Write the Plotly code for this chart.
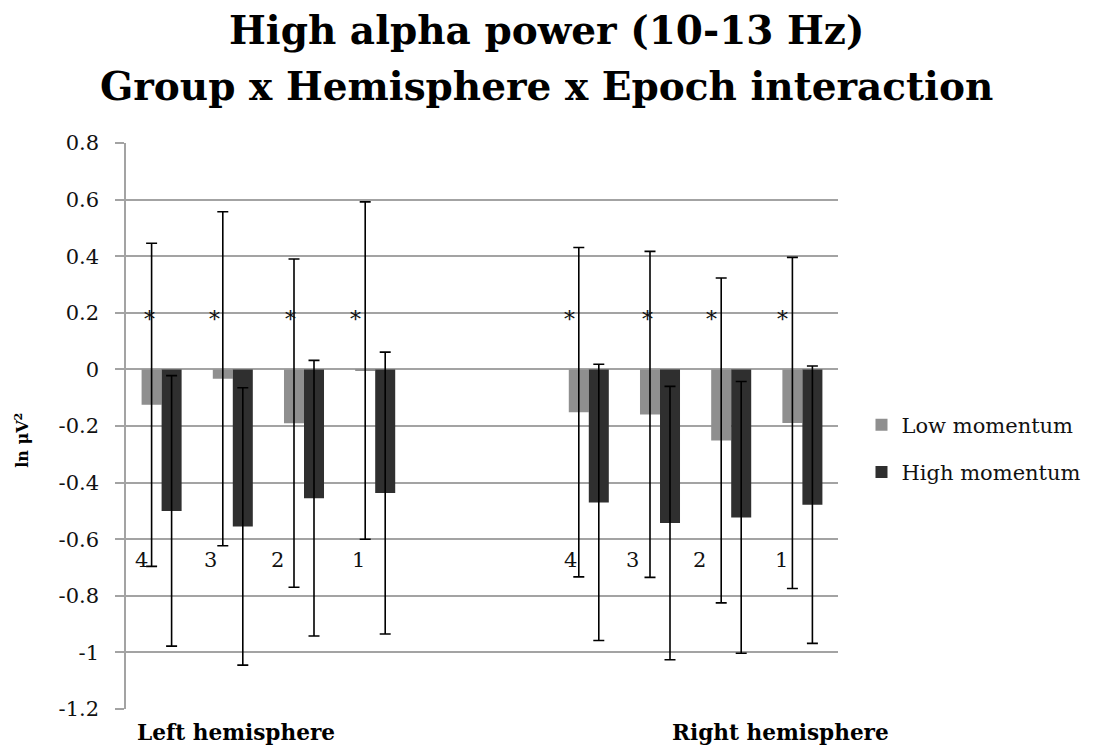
import plotly.graph_objects as go

# ---------------- data ----------------
epochs = ["4", "3", "2", "1"]
hemispheres = ["Left hemisphere", "Right hemisphere"]
series_names = ["Low momentum", "High momentum"]
title_lines = ["High alpha power (10-13 Hz)", "Group x Hemisphere x Epoch interaction"]
y_title = "ln μV<sup>2</sup>"

low_left = [-0.125, -0.033, -0.19, -0.004]
low_left_err = [0.571, 0.59, 0.58, 0.596]
high_left = [-0.50, -0.555, -0.455, -0.437]
high_left_err = [0.478, 0.49, 0.487, 0.498]

low_right = [-0.151, -0.159, -0.251, -0.189]
low_right_err = [0.582, 0.576, 0.574, 0.585]
high_right = [-0.47, -0.543, -0.523, -0.478]
high_right_err = [0.488, 0.483, 0.48, 0.49]

y_ticks = [0.8, 0.6, 0.4, 0.2, 0, -0.2, -0.4, -0.6, -0.8, -1, -1.2]
y_tick_labels = ["0.8", "0.6", "0.4", "0.2", "0", "-0.2", "-0.4", "-0.6", "-0.8", "-1", "-1.2"]
significance_mark = "*"

# ---------------- layout helpers ----------------
FONT = "DejaVu Serif"
GRID = "#a3a3a3"
LOW_COLOR = "#8f8f8f"
HIGH_COLOR = "#2f2f2f"

left_slots = [0, 1, 2, 3]
right_slots = [6, 7, 8, 9]
x_slots = left_slots + right_slots

low_vals = low_left + low_right
low_errs = low_left_err + low_right_err
high_vals = high_left + high_right
high_errs = high_left_err + high_right_err

fig = go.Figure()
fig.add_trace(go.Bar(
    x=x_slots, y=low_vals, name=series_names[0], marker_color=LOW_COLOR,
    marker_line_width=0, legendgroup="a",
    error_y=dict(type="data", array=low_errs, visible=True, color="#000000",
                 thickness=1.6, width=5.5),
))
fig.add_trace(go.Bar(
    x=x_slots, y=high_vals, name=series_names[1], marker_color=HIGH_COLOR,
    marker_line_width=0, legendgroup="b",
    error_y=dict(type="data", array=high_errs, visible=True, color="#000000",
                 thickness=1.6, width=5.5),
))

annotations = []
# title lines
annotations.append(dict(x=0.591, y=1.20, xref="paper", yref="paper", xanchor="center",
                        yanchor="middle", text="<b>" + title_lines[0] + "</b>", showarrow=False,
                        font=dict(family=FONT, size=39, color="#000")))
annotations.append(dict(x=0.591, y=1.1007, xref="paper", yref="paper", xanchor="center",
                        yanchor="middle", text="<b>" + title_lines[1] + "</b>", showarrow=False,
                        font=dict(family=FONT, size=39, color="#000")))
# asterisks (offsets from slot centre, layout only)
star_offsets = [-0.17, -0.26, -0.19, -0.27, -0.27, -0.18, -0.27, -0.28]
for s, off in zip(x_slots, star_offsets):
    annotations.append(dict(x=s + off, y=0.2, xref="x", yref="y", text=significance_mark,
                            showarrow=False, font=dict(family=FONT, size=22, color="#111"),
                            yshift=-7))
# epoch labels
label_offsets = [-0.28, -0.32, -0.37, -0.24, -0.26, -0.39, -0.44, -0.30]
for s, off, lab in zip(x_slots, label_offsets, epochs + epochs):
    annotations.append(dict(x=s + off, y=-0.673, xref="x", yref="y", text=lab,
                            showarrow=False, font=dict(family=FONT, size=21, color="#111")))
# hemisphere labels
annotations.append(dict(x=-0.374, y=-0.042, xref="x", yref="paper", xanchor="left",
                        yanchor="middle", text="<b>" + hemispheres[0] + "</b>", showarrow=False,
                        font=dict(family=FONT, size=21.6, color="#000")))
annotations.append(dict(x=7.14, y=-0.042, xref="x", yref="paper", xanchor="left",
                        yanchor="middle", text="<b>" + hemispheres[1] + "</b>", showarrow=False,
                        font=dict(family=FONT, size=21.6, color="#000")))
# y-axis title
annotations.append(dict(x=-0.1465, y=0.475, xref="paper", yref="paper", xanchor="center",
                        yanchor="middle", text="<b>" + y_title + "</b>",
                        showarrow=False, textangle=-90,
                        font=dict(family=FONT, size=16, color="#000")))

# page has an ~8px body margin, so the figure is 8px smaller than the window
fig.update_layout(
    width=1090, height=742,
    margin=dict(l=118, r=260, t=135, b=41),
    paper_bgcolor="white", plot_bgcolor="white",
    barmode="group", bargap=0.438, bargroupgap=0,
    font=dict(family=FONT, color="#000"),
    xaxis=dict(range=[-0.5, 9.5], showticklabels=False, showgrid=False, zeroline=False,
               showline=False, ticks=""),
    yaxis=dict(range=[-1.2, 0.8], tickvals=y_ticks, ticktext=y_tick_labels,
               showgrid=True, gridcolor=GRID, gridwidth=1.5, zeroline=False,
               showline=True, linecolor=GRID, linewidth=1.5,
               ticks="outside", ticklen=9, tickcolor=GRID, tickwidth=1.5,
               ticklabelstandoff=12,
               tickfont=dict(family=FONT, size=21, color="#111")),
    legend=dict(x=1.033, xanchor="left", y=0.46, yanchor="middle", yref="paper",
                font=dict(family=FONT, size=21, color="#111"),
                tracegroupgap=17, bgcolor="rgba(0,0,0,0)"),
    annotations=annotations,
    showlegend=True,
)

fig.write_html("out.html")
